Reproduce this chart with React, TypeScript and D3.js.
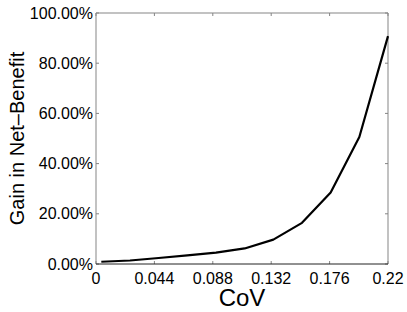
import React from "react";
import * as d3 from "d3";

const covValues = [0.004, 0.0256, 0.0472, 0.0688, 0.0904, 0.112, 0.1336, 0.1552, 0.1768, 0.1984, 0.22];
const gainValues = [0.009, 0.014, 0.024, 0.034, 0.045, 0.062, 0.097, 0.164, 0.285, 0.506, 0.908];
const xTicks = [0, 0.044, 0.088, 0.132, 0.176, 0.22];
const xTickLabels = ["0", "0.044", "0.088", "0.132", "0.176", "0.22"];
const yTicks = [0, 0.2, 0.4, 0.6, 0.8, 1.0];
const yTickLabels = ["0.00%", "20.00%", "40.00%", "60.00%", "80.00%", "100.00%"];

const W = 407, H = 312;
const left = 96, right = 388, top = 13, bottom = 264;
const font = "'Liberation Sans', Arial, Helvetica, sans-serif";

export default function App() {
  const x = d3.scaleLinear().domain([0, 0.22]).range([left, right]);
  const y = d3.scaleLinear().domain([0, 1]).range([bottom, top]);
  const line = d3.line<number>().x((_, i) => x(covValues[i])).y((d) => y(d));
  const tl = 3;
  const gray = "#858585";
  return (
    <svg width={W} height={H} style={{ position: "absolute", left: 0, top: 0, background: "#fff" }}>
      <rect x={0} y={0} width={W} height={H} fill="#fff" />
      {/* box */}
      <line x1={left} x2={right} y1={top} y2={top} stroke={gray} strokeWidth={1} />
      <line x1={right} x2={right} y1={top} y2={bottom} stroke={gray} strokeWidth={1} />
      <line x1={left} x2={left} y1={top} y2={bottom} stroke={gray} strokeWidth={1} />
      {xTicks.map((t, i) => (
        <g key={"x" + i}>
          <line x1={x(t)} x2={x(t)} y1={bottom} y2={bottom - tl} stroke={gray} />
          <line x1={x(t)} x2={x(t)} y1={top} y2={top + tl} stroke={gray} />
          <text x={x(t)} y={284} fontSize={16} fontFamily={font} textAnchor="middle" fill="#000">
            {xTickLabels[i]}
          </text>
        </g>
      ))}
      {yTicks.map((t, i) => (
        <g key={"y" + i}>
          <line x1={left} x2={left + tl} y1={y(t)} y2={y(t)} stroke={gray} />
          <line x1={right} x2={right - tl} y1={y(t)} y2={y(t)} stroke={gray} />
          <text x={93} y={y(t) + 5.5} fontSize={16} fontFamily={font} textAnchor="end" fill="#000">
            {yTickLabels[i]}
          </text>
        </g>
      ))}
      <line x1={left} x2={right} y1={bottom} y2={bottom} stroke="#222" strokeWidth={1} />
      <path d={line(gainValues) || ""} fill="none" stroke="#000" strokeWidth={2.2} strokeLinejoin="round" />
      <text x={(left + right) / 2} y={305.5} fontSize={24} fontFamily={font} textAnchor="middle" fill="#000">
        CoV
      </text>
      <text
        transform={`translate(24, ${(top + bottom) / 2}) rotate(-90)`}
        fontSize={20}
        fontFamily={font}
        textAnchor="middle"
        fill="#000"
      >
        Gain in Net–Benefit
      </text>
    </svg>
  );
}
